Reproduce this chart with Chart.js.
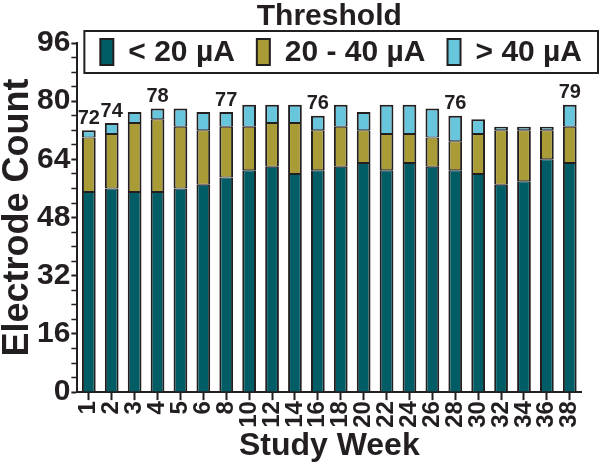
<!DOCTYPE html>
<html>
<head>
<meta charset="utf-8">
<script src="https://cdn.jsdelivr.net/npm/chart.js@4.4.0/dist/chart.umd.min.js"></script>
<style>
  body { margin: 0; background: #fff; }
</style>
</head>
<body>
<canvas id="thresholdChart" width="600" height="466"></canvas>
<script>
// study weeks and electrode counts per threshold band
const weeks = ['1', '2', '3', '4', '5', '6', '8', '10', '12', '14', '16', '18', '20', '22', '24', '26', '28', '30', '32', '34', '36', '38'];
const below20 = [55, 56, 55, 55, 56, 57, 59, 61, 62, 60, 61, 62, 63, 61, 63, 62, 61, 60, 57, 58, 64, 63];
const from20to40 = [15, 15, 19, 20, 17, 15, 14, 12, 12, 14, 11, 11, 9, 10, 8, 8, 8, 11, 15, 14, 8, 10];
const above40 = [2, 3, 3, 3, 5, 5, 4, 6, 5, 5, 4, 6, 5, 8, 8, 8, 7, 4, 1, 1, 1, 6];
const labelledWeeks = ['1', '2', '4', '8', '16', '28', '38'];
const yTicks = [0, 16, 32, 48, 64, 80, 96];

const ink = '#231f20';
const font = '"Liberation Sans", Arial, sans-serif';

// totals printed above some bars
const totalLabels = {
    id: 'totalLabels',
    afterDatasetsDraw(chart) {
        const ctx = chart.ctx;
        const topMeta = chart.getDatasetMeta(chart.data.datasets.length - 1);
        ctx.save();
        ctx.font = 'bold 20px ' + font;
        ctx.fillStyle = ink;
        ctx.textAlign = 'center';
        ctx.textBaseline = 'bottom';
        labelledWeeks.forEach(w => {
            const i = weeks.indexOf(w);
            const total = chart.data.datasets.reduce((s, d) => s + d.data[i], 0);
            const bar = topMeta.data[i];
            ctx.fillText(total, bar.x, bar.y - 2);
        });
        ctx.restore();
    }
};

// boxed legend drawn over the top of the plot
const boxedLegend = {
    id: 'boxedLegend',
    afterDraw(chart) {
        const ctx = chart.ctx;
        const area = chart.chartArea;
        const left = area.left + 7, right = chart.width - 2;
        const top = area.top - 12, height = 42;
        ctx.save();
        ctx.lineWidth = 2;
        ctx.strokeStyle = ink;
        ctx.strokeRect(left, top, right - left, height);

        ctx.font = 'bold 30px ' + font;
        ctx.textBaseline = 'middle';
        const sw = 13, swH = 26, gapText = 15, gapItem = 22;
        const sets = chart.data.datasets;
        let total = 0;
        sets.forEach((d, i) => {
            total += sw + gapText + ctx.measureText(d.label).width;
            if (i < sets.length - 1) total += gapItem;
        });
        let x = left + (right - left - total) / 2;
        const cy = top + height / 2;
        sets.forEach(d => {
            ctx.fillStyle = d.backgroundColor;
            ctx.fillRect(x, cy - swH / 2, sw, swH);
            ctx.strokeRect(x, cy - swH / 2, sw, swH);
            x += sw + gapText;
            ctx.fillStyle = ink;
            ctx.fillText(d.label, x, cy + 1);
            x += ctx.measureText(d.label).width + gapItem;
        });
        ctx.restore();
    }
};

new Chart(document.getElementById('thresholdChart'), {
    type: 'bar',
    data: {
        labels: weeks,
        datasets: [
            {
                label: '< 20 µA',
                data: below20,
                backgroundColor: '#005d66',
                borderWidth: { top: 1, bottom: 0, left: 2, right: 2 }
            },
            {
                label: '20 - 40 µA',
                data: from20to40,
                backgroundColor: '#a99b35',
                borderWidth: { top: 1, bottom: 1, left: 2, right: 2 }
            },
            {
                label: '> 40 µA',
                data: above40,
                backgroundColor: '#67c5dc',
                borderWidth: { top: 2, bottom: 1, left: 2, right: 2 }
            }
        ]
    },
    options: {
        responsive: false,
        animation: false,
        layout: { padding: { left: 0, right: 3, top: 0, bottom: 2 } },
        datasets: {
            bar: {
                borderColor: ink,
                borderSkipped: false,
                barPercentage: 0.6,
                categoryPercentage: 1.0
            }
        },
        plugins: {
            legend: { display: false },
            tooltip: { enabled: false },
            title: {
                display: true,
                text: 'Threshold',
                fullSize: false,
                color: ink,
                font: { family: font, size: 30, weight: 'bold', lineHeight: 1.1 },
                padding: { top: 0, bottom: 10 }
            }
        },
        scales: {
            x: {
                stacked: true,
                border: { color: ink, width: 2 },
                grid: { offset: false, drawOnChartArea: false, tickLength: 8, tickWidth: 2, tickColor: ink },
                ticks: {
                    color: ink,
                    autoSkip: false,
                    maxRotation: 90,
                    minRotation: 90,
                    padding: 1,
                    font: { family: font, size: 24, weight: 'bold' }
                },
                title: {
                    display: true,
                    text: 'Study Week',
                    color: ink,
                    padding: { top: 0, bottom: 0 },
                    font: { family: font, size: 32, weight: 'bold', lineHeight: 1.1 }
                }
            },
            y: {
                stacked: true,
                min: 0,
                max: 96,
                border: { color: ink, width: 2 },
                grid: {
                    drawOnChartArea: false,
                    tickLength: 6,
                    tickColor: ink,
                    tickWidth: c => (yTicks.includes(c.tick.value) ? 2 : 1.5)
                },
                ticks: {
                    stepSize: 4,
                    autoSkip: false,
                    color: ink,
                    padding: 1,
                    font: { family: font, size: 30, weight: 'bold' },
                    callback: v => (yTicks.includes(v) ? v : '')
                },
                title: {
                    display: true,
                    text: 'Electrode Count',
                    color: ink,
                    padding: 0,
                    font: { family: font, size: 36, weight: 'bold', lineHeight: 1 }
                }
            }
        }
    },
    plugins: [totalLabels, boxedLegend]
});
</script>
</body>
</html>
